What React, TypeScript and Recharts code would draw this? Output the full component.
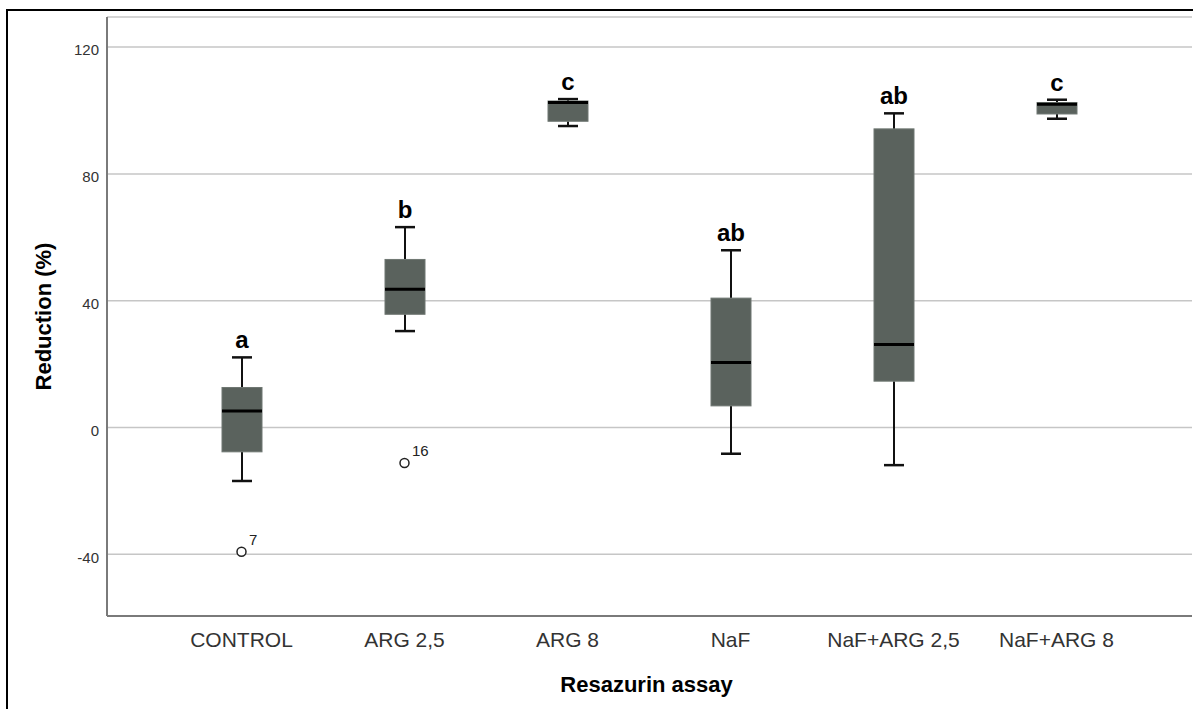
import React from 'react';
import {
  ComposedChart,
  Bar,
  Scatter,
  XAxis,
  YAxis,
  CartesianGrid,
  LabelList,
  Label,
} from 'recharts';

// Treatment groups and their five-number summaries (Reduction %)
const categories = ['CONTROL', 'ARG 2,5', 'ARG 8', 'NaF', 'NaF+ARG 2,5', 'NaF+ARG 8'];
const whiskerLow = [-16.9, 30.4, 95.1, -8.3, -11.9, 97.4];
const quartile1 = [-7.7, 35.7, 96.6, 6.8, 14.6, 98.9];
const medians = [5.2, 43.6, 102.5, 20.5, 26.2, 102.0];
const quartile3 = [12.6, 53.0, 103.0, 40.8, 94.2, 102.5];
const whiskerHigh = [22.1, 63.2, 103.6, 55.9, 99.1, 103.4];
const groupLetters = ['a', 'b', 'c', 'ab', 'ab', 'c'];

// Outlying cases (case number shown beside each circle)
const outlierGroups = ['CONTROL', 'ARG 2,5'];
const outlierValues = [-39.2, -11.2];
const outlierCases = ['7', '16'];

const yTicks = [-40, 0, 40, 80, 120];

const boxData = categories.map((name, i) => ({
  name,
  min: whiskerLow[i],
  q1: quartile1[i],
  median: medians[i],
  q3: quartile3[i],
  max: whiskerHigh[i],
  letter: groupLetters[i],
}));

const outlierData = outlierGroups.map((name, i) => ({
  name,
  value: outlierValues[i],
  caseId: outlierCases[i],
}));

const FONT = '"Liberation Sans", Arial, Helvetica, sans-serif';
const BOX_FILL = '#5a625d';

// Draws one box-and-whisker glyph; the bar itself spans min..max
const BoxShape = (props: any) => {
  const { x, y, width, height, payload } = props;
  if (!payload) return null;
  const top = Math.min(y, y + height);
  const h = Math.abs(height);
  const span = payload.max - payload.min || 1;
  const toY = (v: number) => top + ((payload.max - v) / span) * h;
  const cx = x + width / 2;
  const capHalf = width / 4;
  const yMax = toY(payload.max);
  const yQ3 = toY(payload.q3);
  const yMed = toY(payload.median);
  const yQ1 = toY(payload.q1);
  const yMin = toY(payload.min);
  return (
    <g>
      <line x1={cx} x2={cx} y1={yMax} y2={yQ3} stroke="#111" strokeWidth={2} />
      <line x1={cx} x2={cx} y1={yQ1} y2={yMin} stroke="#111" strokeWidth={2} />
      <line x1={cx - capHalf} x2={cx + capHalf} y1={yMax} y2={yMax} stroke="#111" strokeWidth={2.5} />
      <line x1={cx - capHalf} x2={cx + capHalf} y1={yMin} y2={yMin} stroke="#111" strokeWidth={2.5} />
      <rect
        x={x}
        y={yQ3}
        width={width}
        height={Math.max(yQ1 - yQ3, 0)}
        fill={BOX_FILL}
        stroke="#6f7772"
        strokeWidth={1}
      />
      <line x1={x} x2={x + width} y1={yMed} y2={yMed} stroke="#000" strokeWidth={3} />
    </g>
  );
};

const OutlierShape = (props: any) => {
  const { cx, cy, payload } = props;
  if (cx == null || cy == null) return null;
  return (
    <g>
      <circle cx={cx} cy={cy} r={4.5} fill="#fff" stroke="#222" strokeWidth={1.5} />
      <text x={cx + 7.5} y={cy - 7} fontSize={15} fontFamily={FONT} fill="#222">
        {payload.caseId}
      </text>
    </g>
  );
};

export default function App() {
  return (
    <div
      style={{
        position: 'absolute',
        left: 0,
        top: 0,
        width: 1193,
        height: 709,
        overflow: 'hidden',
        background: '#fff',
      }}
    >
      <div
        style={{
          position: 'absolute',
          left: 6,
          top: 9,
          width: 1300,
          height: 800,
          borderTop: '2px solid #000',
          borderLeft: '2px solid #000',
        }}
      />
      <div style={{ position: 'absolute', left: 0, top: 0 }}>
        <ComposedChart
          width={1193}
          height={709}
          data={boxData}
          margin={{ top: 17, right: 1, bottom: 0, left: 0 }}
        >
          <CartesianGrid horizontal vertical={false} stroke="#c6c6c6" strokeWidth={1.5} />
          <XAxis
            dataKey="name"
            type="category"
            allowDuplicatedCategory={false}
            height={93}
            padding={{ left: 53, right: 54 }}
            axisLine={{ stroke: '#7a7a7a', strokeWidth: 2 }}
            tickLine={false}
            tickSize={0}
            tickMargin={16}
            interval={0}
            tick={{ fontSize: 21, fill: '#333', fontFamily: FONT }}
          >
            <Label
              value="Resazurin assay"
              position="insideBottom"
              offset={17}
              dx={-3}
              style={{ fontSize: 22, fontWeight: 700, fill: '#000', fontFamily: FONT }}
            />
          </XAxis>
          <YAxis
            type="number"
            width={107}
            domain={[-59.5, 129.5]}
            ticks={yTicks}
            axisLine={{ stroke: '#7a7a7a', strokeWidth: 2 }}
            tickLine={false}
            tickSize={0}
            tickMargin={8}
            tick={{ fontSize: 15, fill: '#333', fontFamily: FONT, dy: 3 }}
          >
            <Label
              value="Reduction (%)"
              angle={-90}
              position="insideLeft"
              offset={43}
              style={{ textAnchor: 'middle', fontSize: 22, fontWeight: 700, fill: '#000', fontFamily: FONT }}
            />
          </YAxis>
          <Bar
            dataKey={(d: any) => [d.min, d.max]}
            barSize={40}
            shape={<BoxShape />}
            isAnimationActive={false}
          >
            <LabelList
              dataKey="letter"
              position="top"
              offset={9}
              style={{ fontSize: 24, fontWeight: 700, fill: '#000', fontFamily: FONT }}
            />
          </Bar>
          <Scatter
            data={outlierData}
            dataKey="value"
            shape={<OutlierShape />}
            isAnimationActive={false}
          />
        </ComposedChart>
      </div>
    </div>
  );
}
